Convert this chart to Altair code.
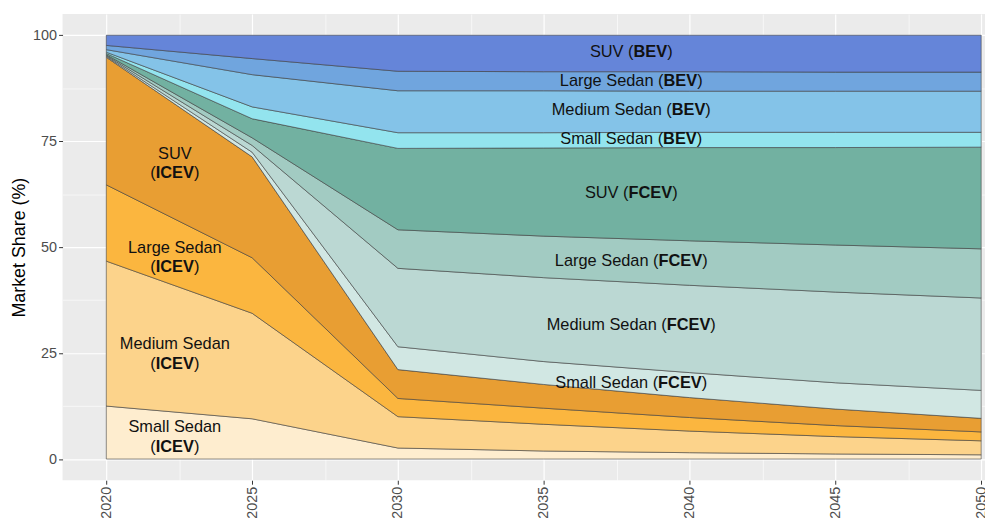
import altair as alt
import pandas as pd

# ---------------- data ----------------
years = [2020, 2025, 2030, 2035, 2040, 2045, 2050]

series_names = [
    "Small Sedan (ICEV)", "Medium Sedan (ICEV)", "Large Sedan (ICEV)", "SUV (ICEV)",
    "Small Sedan (FCEV)", "Medium Sedan (FCEV)", "Large Sedan (FCEV)", "SUV (FCEV)",
    "Small Sedan (BEV)", "Medium Sedan (BEV)", "Large Sedan (BEV)", "SUV (BEV)",
]

small_icev = [12.5, 9.5, 2.6, 1.9, 1.5, 1.2, 1.0]
medium_icev = [34.2, 24.9, 7.4, 6.3, 5.1, 4.1, 3.3]
large_icev = [18.0, 13.1, 4.3, 3.8, 3.2, 2.6, 2.1]
suv_icev = [30.1, 23.8, 6.8, 5.6, 4.7, 3.9, 3.2]
small_fcev = [0.2, 1.1, 5.4, 5.4, 5.9, 6.2, 6.6]
medium_fcev = [0.2, 1.6, 18.5, 19.8, 20.6, 21.4, 21.8]
large_fcev = [0.2, 1.8, 9.1, 9.8, 10.5, 11.1, 11.6]
suv_fcev = [0.3, 4.5, 19.2, 20.8, 22.0, 23.0, 24.0]
small_bev = [0.3, 2.8, 3.7, 3.6, 3.6, 3.6, 3.5]
medium_bev = [0.6, 7.6, 9.9, 9.9, 9.7, 9.7, 9.7]
large_bev = [1.0, 3.8, 4.6, 4.5, 4.6, 4.5, 4.5]
suv_bev = [2.4, 5.5, 8.5, 8.6, 8.6, 8.7, 8.7]

series_values = [small_icev, medium_icev, large_icev, suv_icev,
                 small_fcev, medium_fcev, large_fcev, suv_fcev,
                 small_bev, medium_bev, large_bev, suv_bev]

series_colors = ["#FEEDCF", "#FCD38B", "#FBB63F", "#E89E33",
                 "#D1E7E3", "#BBD8D3", "#A2CBC2", "#72B1A1",
                 "#93E4EE", "#84C3E8", "#70A5DE", "#6585D9"]

x_major = [2020, 2025, 2030, 2035, 2040, 2045, 2050]
x_minor = [2022.5, 2027.5, 2032.5, 2037.5, 2042.5, 2047.5]
y_major = [0, 25, 50, 75, 100]
y_minor = [12.5, 37.5, 62.5, 87.5]

# right-hand labels: (prefix, bold, year, value)
right_labels = [
    ("SUV (", "BEV", 2038.0, 96.0),
    ("Large Sedan (", "BEV", 2038.0, 89.2),
    ("Medium Sedan (", "BEV", 2038.0, 82.4),
    ("Small Sedan (", "BEV", 2038.0, 75.4),
    ("SUV (", "FCEV", 2038.0, 62.8),
    ("Large Sedan (", "FCEV", 2038.0, 46.8),
    ("Medium Sedan (", "FCEV", 2038.0, 31.6),
    ("Small Sedan (", "FCEV", 2038.0, 18.0),
]
# left-hand two-line labels: (line1, bold, year, value line1, value line2)
left_labels = [
    ("SUV", "ICEV", 2022.35, 71.9, 67.4),
    ("Large Sedan", "ICEV", 2022.35, 49.9, 45.2),
    ("Medium Sedan", "ICEV", 2022.35, 27.2, 22.5),
    ("Small Sedan", "ICEV", 2022.35, 7.5, 2.8),
]

# ---------------- layout ----------------
W, H = 930, 470
X_MIN, X_MAX = 2018.5, 2050.13
Y_MIN, Y_MAX = -5, 105
FONT = "Liberation Sans, Arial, sans-serif"
FS = 16.5
PPY = W / (X_MAX - X_MIN)  # pixels per year
BG = "#EBEBEB"

REG = {"S": 667, "U": 722, "V": 667, "L": 556, "a": 556, "r": 333, "g": 556,
       "e": 556, "M": 833, "d": 556, "i": 222, "u": 556, "m": 833, "n": 556,
       "l": 222, " ": 278, "(": 333, ")": 333}
BOLD = {"B": 722, "E": 667, "V": 667, "F": 611, "C": 722, "I": 278}


def tw(s, table):
    return sum(table.get(c, 556) for c in s) * FS / 1000.0


rows = []
for i, (name, vals) in enumerate(zip(series_names, series_values)):
    for yr, v in zip(years, vals):
        rows.append({"year": yr, "share": v, "series": name, "ord": i})
df = pd.DataFrame(rows)

pre_rows, bold_rows, suf_rows, center_rows = [], [], [], []
for prefix, bold, xc, yv in right_labels:
    wp, wb, ws = tw(prefix, REG), tw(bold, BOLD), tw(")", REG)
    left = -(wp + wb + ws) / 2
    pre_rows.append({"year": xc + (left + wp) / PPY, "share": yv, "t": prefix})
    bold_rows.append({"year": xc + (left + wp) / PPY, "share": yv, "t": bold})
    suf_rows.append({"year": xc + (left + wp + wb) / PPY, "share": yv, "t": ")"})
for line1, bold, xc, y1, y2 in left_labels:
    center_rows.append({"year": xc, "share": y1, "t": line1})
    wp, wb, ws = tw("(", REG), tw(bold, BOLD), tw(")", REG)
    left = -(wp + wb + ws) / 2
    pre_rows.append({"year": xc + (left + wp) / PPY, "share": y2, "t": "("})
    bold_rows.append({"year": xc + (left + wp) / PPY, "share": y2, "t": bold})
    suf_rows.append({"year": xc + (left + wp + wb) / PPY, "share": y2, "t": ")"})

xscale = alt.Scale(domain=[X_MIN, X_MAX], nice=False, zero=False)
yscale = alt.Scale(domain=[Y_MIN, Y_MAX], nice=False, zero=False)

xaxis = alt.Axis(
    values=sorted(x_major + x_minor), title=None, format="d",
    labelExpr="datum.value % 5 === 0 ? datum.label : ''",
    labelAngle=270, labelFontSize=14.5, labelColor="#4D4D4D", labelFont=FONT,
    labelPadding=2, tickSize=4, tickColor="#333333",
    tickOpacity={"condition": {"test": "datum.value % 5 === 0", "value": 1}, "value": 0},
    grid=True, gridColor="#FFFFFF", gridOpacity=1,
    gridWidth={"condition": {"test": "datum.value % 5 === 0", "value": 1.2}, "value": 0.6},
    domain=False, labelFlush=False, labelOverlap=False,
)
yaxis = alt.Axis(
    values=sorted(y_major + y_minor), title="Market Share (%)",
    labelExpr="datum.value % 25 === 0 ? datum.label : ''",
    labelFontSize=14.5, labelColor="#4D4D4D", labelFont=FONT, labelPadding=2,
    tickSize=4, tickColor="#333333",
    tickOpacity={"condition": {"test": "datum.value % 25 === 0", "value": 1}, "value": 0},
    grid=True, gridColor="#FFFFFF", gridOpacity=1,
    gridWidth={"condition": {"test": "datum.value % 25 === 0", "value": 1.2}, "value": 0.6},
    domain=False, labelFlush=False, labelOverlap=False,
    titleFontSize=18, titleFont=FONT, titleFontWeight="normal", titleColor="#000000",
    titleX=-43, titleY=H / 2, titleAlign="center", titleBaseline="middle", titleAngle=270,
)

area = alt.Chart(df).mark_area(
    stroke="#3F3F3F", strokeWidth=0.6, interpolate="linear"
).encode(
    x=alt.X("year:Q", scale=xscale, axis=xaxis),
    y=alt.Y("share:Q", scale=yscale, axis=yaxis, stack="zero"),
    color=alt.Color("series:N", scale=alt.Scale(domain=series_names, range=series_colors), legend=None),
    order=alt.Order("ord:Q", sort="ascending"),
)


def text_layer(rows_, align, weight):
    return alt.Chart(pd.DataFrame(rows_)).mark_text(
        align=align, baseline="middle", fontSize=FS, font=FONT,
        fontWeight=weight, color="#111111"
    ).encode(
        x=alt.X("year:Q", scale=xscale, axis=xaxis),
        y=alt.Y("share:Q", scale=yscale, axis=yaxis),
        text="t:N",
    )


chart = alt.layer(
    area,
    text_layer(pre_rows, "right", "normal"),
    text_layer(bold_rows, "left", "bold"),
    text_layer(suf_rows, "left", "normal"),
    text_layer(center_rows, "center", "normal"),
).properties(
    width=W, height=H,
    view=alt.ViewBackground(fill=BG, strokeWidth=0),
    autosize=alt.AutoSizeParams(type="none"),
    padding={"left": 55, "top": 4, "right": 0, "bottom": 39},
).configure_view(
    fill=BG, strokeWidth=0
).configure(background="white")

chart.save("out.html", embed_options={"renderer": "svg", "actions": False})
